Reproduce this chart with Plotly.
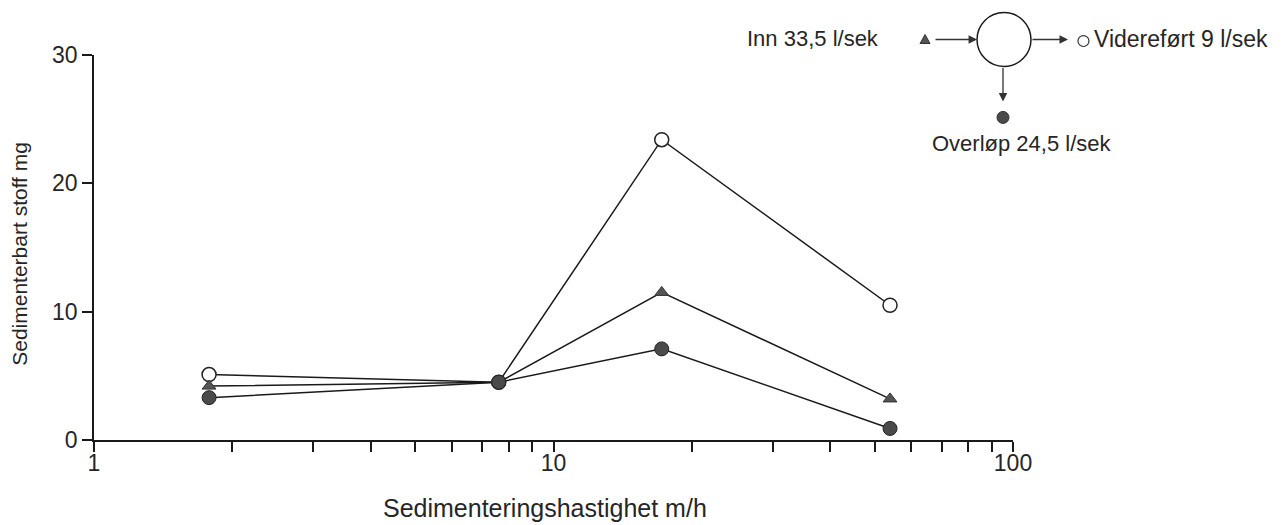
import plotly.graph_objects as go

# Data
hastighet = [1.78, 7.6, 17.2, 54]         # Sedimenteringshastighet m/h
inn = [4.2, 4.5, 11.5, 3.2]                # Inn 33,5 l/sek (triangle)
videreført = [5.1, 4.5, 23.4, 10.5]        # Videreført 9 l/sek (open circle)
overløp = [3.3, 4.5, 7.1, 0.9]             # Overløp 24,5 l/sek (filled circle)

x_tickvals = [1, 2, 3, 4, 5, 6, 7, 8, 9, 10, 20, 30, 40, 50, 60, 70, 80, 90, 100]
x_ticktext = ["1"] + [""] * 8 + ["10"] + [""] * 8 + ["100"]
y_tickvals = [0, 10, 20, 30]

# page geometry (the html body adds an 8px margin around the figure)
OFF = 8
W, H = 1287 - OFF, 525 - OFF
PL, PR, PT, PB = 93.5, 1013.0, 54.5, 440.0   # plot area in page pixels
FONT = "Liberation Sans, Arial, sans-serif"
TXT = "#262626"
LINE = "#1a1a1a"

def px(x):
    return (x - PL) / (PR - PL)

def py(y):
    return (PB - y) / (PB - PT)

fig = go.Figure()

fig.add_trace(go.Scatter(
    x=hastighet, y=videreført, mode="lines+markers", name="Videreført 9 l/sek",
    line=dict(color=LINE, width=1.5),
    marker=dict(symbol="circle", size=14, color="white", line=dict(color="#222", width=1.5)),
))
fig.add_trace(go.Scatter(
    x=hastighet, y=inn, mode="lines+markers", name="Inn 33,5 l/sek",
    line=dict(color=LINE, width=1.5),
    marker=dict(symbol="triangle-up", size=12, color="#555", line=dict(color="#333", width=1)),
))
fig.add_trace(go.Scatter(
    x=hastighet, y=overløp, mode="lines+markers", name="Overløp 24,5 l/sek",
    line=dict(color=LINE, width=1.5),
    marker=dict(symbol="circle", size=14, color="#4a4a4a", line=dict(color="#222", width=1)),
))

shapes = []
annotations = []

# extended axis stubs
shapes.append(dict(type="line", xref="paper", yref="paper", x0=px(83), x1=px(PL), y0=0, y1=0,
                   line=dict(color=LINE, width=1.5)))
shapes.append(dict(type="line", xref="paper", yref="paper", x0=0, x1=0, y0=py(PB + 12), y1=0,
                   line=dict(color=LINE, width=1.5)))

# flow diagram (legend)
cx, cy, r = 1004, 39, 27
shapes.append(dict(type="circle", xref="paper", yref="paper",
                   x0=px(cx - r), x1=px(cx + r), y0=py(cy + r), y1=py(cy - r),
                   line=dict(color=LINE, width=1.5), fillcolor="white"))
tx, ty = 925, 39
shapes.append(dict(type="path", xref="paper", yref="paper",
                   path=f"M {px(tx-5)} {py(ty+4)} L {px(tx+5)} {py(ty+4)} L {px(tx)} {py(ty-5)} Z",
                   fillcolor="#555", line=dict(color="#333", width=1)))
shapes.append(dict(type="circle", xref="paper", yref="paper",
                   x0=px(1078), x1=px(1089), y0=py(46), y1=py(35),
                   line=dict(color="#333", width=1.2), fillcolor="white"))
shapes.append(dict(type="circle", xref="paper", yref="paper",
                   x0=px(997), x1=px(1009), y0=py(123), y1=py(111),
                   line=dict(color="#333", width=1), fillcolor="#4a4a4a"))

def arrow(x0, y0, x1, y1):
    annotations.append(dict(xref="paper", yref="paper", x=px(x1), y=py(y1),
                            axref="pixel", ayref="pixel", ax=x0 - x1, ay=y0 - y1,
                            text="", showarrow=True, arrowhead=2, arrowsize=1.3,
                            arrowwidth=1.3, arrowcolor="#333"))

arrow(934, 39, cx - r, 39)
arrow(cx + r, 39, 1068, 39)
arrow(1003, cy + r, 1003, 101)

def label(x, y, text, size, anchor="left", angle=0):
    annotations.append(dict(xref="paper", yref="paper", x=px(x), y=py(y), xanchor=anchor,
                            yanchor="middle", text=text, showarrow=False, textangle=angle,
                            font=dict(family=FONT, size=size, color=TXT)))

label(745, 38, "Inn 33,5 l/sek", 22)
label(1092, 38, "Videreført 9 l/sek", 23)
label(1022, 143, "Overløp 24,5 l/sek", 22, anchor="center")

# axis titles
label(545, 508, "Sedimenteringshastighet m/h", 25, anchor="center")
label(19, 254, "Sedimenterbart stoff mg", 21, anchor="center", angle=-90)

fig.update_layout(
    width=W, height=H,
    margin=dict(l=PL - OFF, r=W - (PR - OFF), t=PT - OFF, b=H - (PB - OFF), pad=0),
    paper_bgcolor="white", plot_bgcolor="white",
    showlegend=False,
    shapes=shapes, annotations=annotations,
    font=dict(family=FONT, color=TXT),
    xaxis=dict(type="log", range=[0, 2], tickvals=x_tickvals, ticktext=x_ticktext,
               ticks="outside", ticklen=10, tickwidth=1.5, tickcolor=LINE,
               ticklabelstandoff=-8,
               showline=True, linecolor=LINE, linewidth=1.5, showgrid=False, zeroline=False,
               tickfont=dict(size=23, color=TXT)),
    yaxis=dict(range=[0, 30], tickvals=y_tickvals,
               ticks="outside", ticklen=10, tickwidth=1.5, tickcolor=LINE,
               showline=True, linecolor=LINE, linewidth=1.5, showgrid=False, zeroline=False,
               tickfont=dict(size=23, color=TXT)),
)

fig.write_html("out.html")
